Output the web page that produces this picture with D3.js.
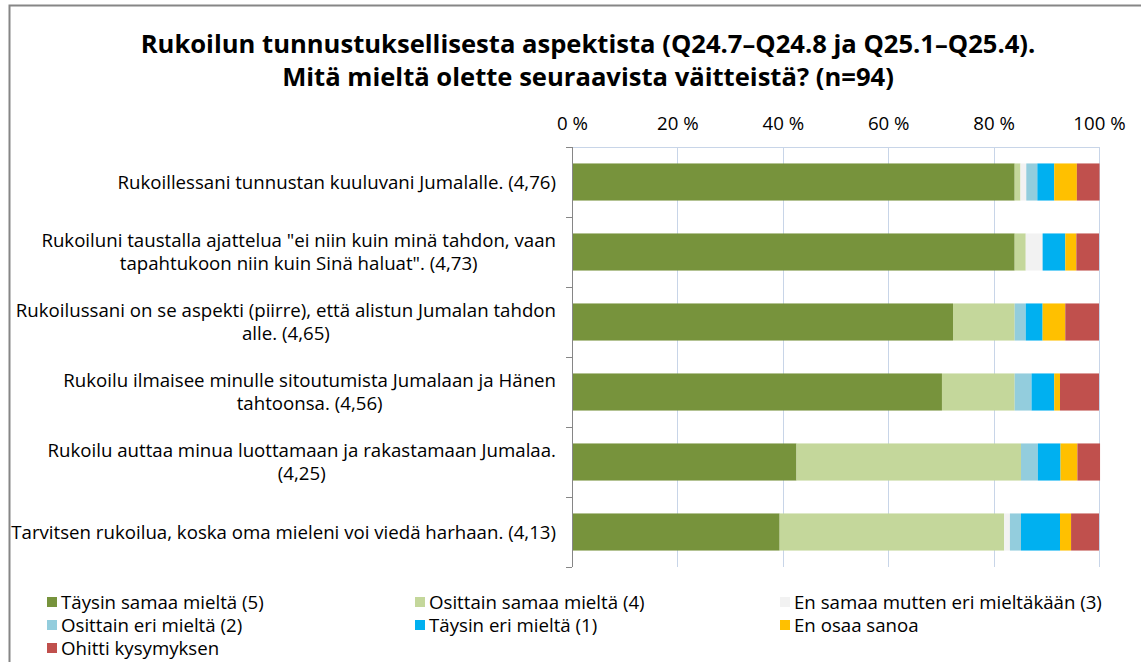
<!DOCTYPE html>
<html>
<head>
<meta charset="utf-8">
<script src="https://cdn.jsdelivr.net/npm/d3@7"></script>
<style>
  body { margin: 0; background: #fff; }
  svg { display: block; }
</style>
</head>
<body>
<div id="chart"></div>
<script>
const titleLines = [
  'Rukoilun tunnustuksellisesta aspektista (Q24.7–Q24.8 ja Q25.1–Q25.4).',
  'Mitä mieltä olette seuraavista väitteistä? (n=94)'
];

// category labels, already split into lines like the original
const categories = [
  ['Rukoillessani tunnustan kuuluvani Jumalalle. (4,76)'],
  ['Rukoiluni taustalla ajattelua "ei niin kuin minä tahdon, vaan', 'tapahtukoon niin kuin Sinä haluat". (4,73)'],
  ['Rukoilussani on se aspekti (piirre), että alistun Jumalan tahdon', 'alle. (4,65)'],
  ['Rukoilu ilmaisee minulle sitoutumista Jumalaan ja Hänen', 'tahtoonsa. (4,56)'],
  ['Rukoilu auttaa minua luottamaan ja rakastamaan Jumalaa.', '(4,25)'],
  ['Tarvitsen rukoilua, koska oma mieleni voi viedä harhaan. (4,13)']
];

const seriesNames = [
  'Täysin samaa mieltä (5)',
  'Osittain samaa mieltä (4)',
  'En samaa mutten eri mieltäkään (3)',
  'Osittain eri mieltä (2)',
  'Täysin eri mieltä (1)',
  'En osaa sanoa',
  'Ohitti kysymyksen'
];

// percentages per series, one value per category (n=94)
const taysinSamaa = [84.0, 84.0, 72.3, 70.2, 42.6, 39.4];
const osittainSamaa = [1.1, 2.1, 11.7, 13.8, 42.6, 42.6];
const enSamaaEnEri = [1.1, 3.2, 0.0, 0.0, 0.0, 1.1];
const osittainEri = [2.1, 0.0, 2.1, 3.2, 3.2, 2.1];
const taysinEri = [3.2, 4.3, 3.2, 4.3, 4.3, 7.4];
const enOsaa = [4.3, 2.1, 4.3, 1.1, 3.2, 2.1];
const ohitti = [4.3, 4.3, 6.4, 7.4, 4.3, 5.3];

const seriesValues = [taysinSamaa, osittainSamaa, enSamaaEnEri, osittainEri, taysinEri, enOsaa, ohitti];
const colors = ['#77933C', '#C4D79B', '#F2F2F2', '#93CDDD', '#00B0F0', '#FFC000', '#C0504D'];
const xTicks = [0, 20, 40, 60, 80, 100];

const W = 1141, H = 662;
const FONT = '"Open Sans", "Noto Sans", sans-serif';

const svg = d3.select('#chart')
  .append('svg')
  .attr('width', W)
  .attr('height', H)
  .attr('font-family', FONT);

// pick a font size so that _str_ is about _target_ px wide
function fitSize(str, base, target, weight) {
  const t = svg.append('text')
    .attr('font-size', base)
    .attr('font-weight', weight || 'normal')
    .text(str);
  const w = t.node().getComputedTextLength();
  t.remove();
  return base * target / w;
}

const titleSize = fitSize(titleLines[0], 20, 895, 'bold');
const labelSize = fitSize(categories[5][0], 16, 545);

// outer frame
svg.append('rect')
  .attr('x', 9.5)
  .attr('y', 5.5)
  .attr('width', W + 20)
  .attr('height', H + 20)
  .attr('fill', 'none')
  .attr('stroke', '#868686')
  .attr('stroke-width', 2);

svg.append('g')
  .selectAll('text')
  .data(titleLines)
  .join('text')
  .attr('x', 588)
  .attr('y', (d, i) => 53 + i * 33)
  .attr('text-anchor', 'middle')
  .attr('font-size', titleSize)
  .attr('font-weight', 'bold')
  .attr('fill', '#000')
  .text(d => d);

const x = d3.scaleLinear().domain([0, 100]).range([572, 1099]);
const y = d3.scaleBand()
  .domain(d3.range(categories.length))
  .range([147, 567])
  .paddingInner(0.47)
  .paddingOuter(0.235);

// stacked rows
const rows = categories.map((c, i) => {
  const r = { idx: i };
  seriesValues.forEach((s, k) => { r[k] = s[i]; });
  return r;
});
const stack = d3.stack().keys(d3.range(seriesValues.length))(rows);

// gridlines
svg.append('g')
  .attr('stroke', '#C8D5E8')
  .attr('stroke-width', 1)
  .selectAll('line')
  .data(xTicks)
  .join('line')
  .attr('x1', d => Math.round(x(d)) + 0.5)
  .attr('x2', d => Math.round(x(d)) + 0.5)
  .attr('y1', 147)
  .attr('y2', 567);

svg.append('line')
  .attr('x1', x(0))
  .attr('x2', x(100))
  .attr('y1', 147.5)
  .attr('y2', 147.5)
  .attr('stroke', '#C8D5E8');

svg.append('g')
  .selectAll('g')
  .data(stack)
  .join('g')
  .attr('fill', (d, k) => colors[k])
  .selectAll('rect')
  .data(d => d)
  .join('rect')
  .attr('x', d => x(d[0]))
  .attr('width', d => x(d[1]) - x(d[0]))
  .attr('y', d => y(d.data.idx))
  .attr('height', y.bandwidth());

// top axis labels
const xAxis = svg.append('g')
  .attr('transform', 'translate(0,147)')
  .call(d3.axisTop(x).tickValues(xTicks).tickFormat(d => d + ' %').tickSize(0).tickPadding(17));
xAxis.select('.domain').remove();
xAxis.selectAll('text')
  .attr('font-family', FONT)
  .attr('font-size', labelSize)
  .attr('fill', '#000');

// category axis
const bounds = d3.range(categories.length + 1).map(i => 147 + i * y.step());
svg.append('line')
  .attr('x1', 572.5).attr('x2', 572.5)
  .attr('y1', 147).attr('y2', 567)
  .attr('stroke', '#868686');
svg.append('g')
  .attr('stroke', '#868686')
  .selectAll('line')
  .data(bounds)
  .join('line')
  .attr('x1', 566).attr('x2', 572)
  .attr('y1', d => Math.round(d) + 0.5)
  .attr('y2', d => Math.round(d) + 0.5);

const labelG = svg.append('g')
  .attr('font-size', labelSize)
  .attr('fill', '#000');

categories.forEach((lines, i) => {
  const cy = y(i) + y.bandwidth() / 2;
  const lh = 23;
  const texts = lines.map((ln, j) => labelG.append('text')
    .attr('text-anchor', 'middle')
    .attr('y', cy + (j - (lines.length - 1) / 2) * lh)
    .attr('dy', '0.35em')
    .text(ln));
  // block is right aligned to the axis, lines centred inside it
  const maxW = d3.max(texts, t => t.node().getComputedTextLength());
  texts.forEach(t => t.attr('x', 556 - maxW / 2));
});

// legend
const legendPos = [
  [47, 602], [415, 602], [780, 602],
  [47, 625], [415, 625], [780, 625],
  [47, 648]
];
const legend = svg.append('g')
  .selectAll('g')
  .data(seriesNames)
  .join('g')
  .attr('transform', (d, i) => `translate(${legendPos[i][0]},${legendPos[i][1]})`);
legend.append('rect')
  .attr('x', 0)
  .attr('y', -5)
  .attr('width', 10)
  .attr('height', 10)
  .attr('fill', (d, i) => colors[i]);
legend.append('text')
  .attr('x', 14)
  .attr('dy', '0.35em')
  .attr('font-size', labelSize)
  .attr('fill', '#000')
  .text(d => d);
</script>
</body>
</html>
